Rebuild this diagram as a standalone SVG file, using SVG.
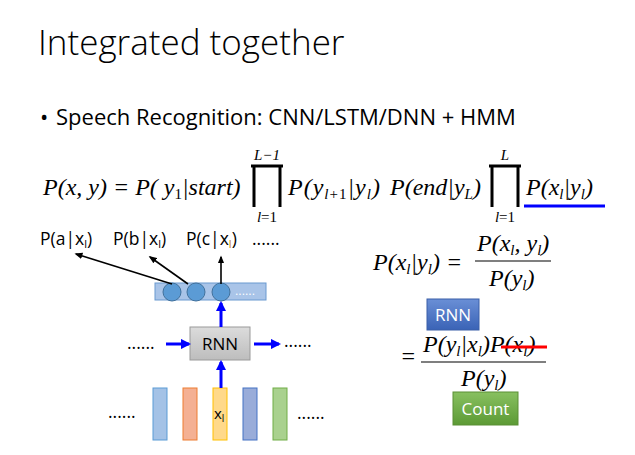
<svg xmlns="http://www.w3.org/2000/svg" width="635" height="455" viewBox="0 0 635 455">
<style>
.t{font-family:"Open Sans","Liberation Sans",sans-serif;fill:#000}
.m{font-family:"Liberation Serif",serif;font-style:italic;font-size:24px;fill:#000}
.s{font-size:15px}
.lab{font-family:"Open Sans","Liberation Sans",sans-serif;font-size:17.5px}
.prod{fill:none;stroke:#000;stroke-width:3}
.bl{stroke:#0000ff;stroke-width:3;fill:none}
.bk{stroke:#000;stroke-width:1.6;fill:none}
</style>
<defs>
<marker id="ab" viewBox="0 0 10 10" refX="8" refY="5" markerWidth="3.5" markerHeight="3.5" orient="auto"><path d="M0,0L10,5L0,10z" fill="#0000ff"/></marker>
<marker id="ak" viewBox="0 0 10 10" refX="8" refY="5" markerWidth="5" markerHeight="5" orient="auto"><path d="M0,1L10,5L0,9z" fill="#000"/></marker>
<linearGradient id="gb" x1="0" y1="0" x2="0" y2="1"><stop offset="0" stop-color="#6a8fd6"/><stop offset="1" stop-color="#3a63b6"/></linearGradient>
<linearGradient id="gg" x1="0" y1="0" x2="0" y2="1"><stop offset="0" stop-color="#88c060"/><stop offset="1" stop-color="#5c9a35"/></linearGradient>
<linearGradient id="gr" x1="0" y1="0" x2="0" y2="1"><stop offset="0" stop-color="#dcdcdc"/><stop offset="1" stop-color="#bdbdbd"/></linearGradient>
</defs>
<rect width="635" height="455" fill="#fff"/>
<text class="t" x="38" y="55" font-size="35" font-weight="300">Integrated together</text>
<text class="t" x="40" y="125" font-size="22">•</text>
<text class="t" x="56" y="125" font-size="22">Speech Recognition: CNN/LSTM/DNN + HMM</text>

<g id="equation">
<text class="m" x="43" y="195" font-size="23">P(x, y) = P( y<tspan class="s" dy="4" font-style="normal">1</tspan><tspan dy="-4">|start)</tspan></text>
<path class="prod" d="M251,166H283M254,166V207M280,166V207"/>
<text class="m s" x="267" y="160" text-anchor="middle">L−1</text>
<text class="m s" x="267" y="222" text-anchor="middle">l<tspan font-style="normal">=1</tspan></text>
<text class="m" x="288" y="195" font-size="25" letter-spacing="1">P(y<tspan class="s" dy="4">l<tspan font-style="normal">+1</tspan></tspan><tspan dy="-4">|y</tspan><tspan class="s" dy="4">l</tspan><tspan dy="-4">)</tspan></text>
<text class="m" x="390" y="195" font-size="25">P(end|y<tspan class="s" dy="4">L</tspan><tspan dy="-4">)</tspan></text>
<path class="prod" d="M489,166H521M492,166V207M518,166V207"/>
<text class="m s" x="505" y="160" text-anchor="middle">L</text>
<text class="m s" x="505" y="222" text-anchor="middle">l<tspan font-style="normal">=1</tspan></text>
<text class="m" x="526" y="195" font-size="27">P(x<tspan class="s" dy="4">l</tspan><tspan dy="-4">|y</tspan><tspan class="s" dy="4">l</tspan><tspan dy="-4">)</tspan></text>
<line x1="524" y1="206" x2="605" y2="206" stroke="#0000ff" stroke-width="3"/>
</g>

<g id="outputs" class="lab">
<text x="40" y="245">P(a|x<tspan font-size="11" dy="3">l</tspan><tspan dy="-3">)</tspan></text>
<text x="113" y="245">P(b|x<tspan font-size="11" dy="3">l</tspan><tspan dy="-3">)</tspan></text>
<text x="186" y="245">P(c|x<tspan font-size="11" dy="3" fill="#c08000">l</tspan><tspan dy="-3">)</tspan></text>
<text x="252" y="245">......</text>
</g>

<g id="layer">
<rect x="155" y="283" width="111" height="17" fill="#a9c4e8" stroke="#6a9ad0"/>
<circle cx="172" cy="292" r="9" fill="#5b9bd5" stroke="#41719c"/>
<circle cx="196" cy="292" r="9" fill="#5b9bd5" stroke="#41719c"/>
<circle cx="221" cy="292" r="9" fill="#5b9bd5" stroke="#41719c"/>
<text x="235" y="295" font-family="Liberation Sans,sans-serif" font-size="12" fill="#fff">......</text>
</g>

<g id="rnn">
<rect x="190" y="327" width="60" height="33" fill="url(#gr)" stroke="#9a9a9a"/>
<text class="t" x="220" y="350" font-size="17" text-anchor="middle">RNN</text>
</g>

<g id="inputs">
<rect x="153" y="388" width="14" height="52" fill="#a4c2e6" stroke="#5b9bd5"/>
<rect x="183" y="388" width="14" height="52" fill="#f4b093" stroke="#ed7d31"/>
<rect x="213" y="388" width="14" height="52" fill="#ffd98a" stroke="#ffc000"/>
<text class="t" x="214" y="419" font-size="15">x<tspan font-size="10" dy="3">l</tspan></text>
<rect x="243" y="388" width="14" height="52" fill="#99acd9" stroke="#4472c4"/>
<rect x="273" y="388" width="14" height="52" fill="#a9d18e" stroke="#70ad47"/>
</g>

<g id="dots" class="lab">
<text x="108" y="418">......</text>
<text x="297" y="419">......</text>
<text x="127" y="349">......</text>
<text x="284" y="347">......</text>
</g>

<g id="connectors">
<line class="bk" x1="172" y1="284" x2="76" y2="254" marker-end="url(#ak)"/>
<line class="bk" x1="188" y1="284" x2="150" y2="257" marker-end="url(#ak)"/>
<line class="bk" x1="221" y1="284" x2="221" y2="257" marker-end="url(#ak)"/>
<line class="bl" x1="221" y1="327" x2="221" y2="303" marker-end="url(#ab)"/>
<line class="bl" x1="166" y1="344" x2="189" y2="344" marker-end="url(#ab)"/>
<line class="bl" x1="254" y1="344" x2="279" y2="344" marker-end="url(#ab)"/>
<line class="bl" x1="221" y1="388" x2="221" y2="362" marker-end="url(#ab)"/>
</g>

<g id="right-eq">
<text class="m" x="373" y="270">P(x<tspan class="s" dy="4">l</tspan><tspan dy="-4">|y</tspan><tspan class="s" dy="4">l</tspan><tspan dy="-4">) =</tspan></text>
<text class="m" x="477" y="251">P(x<tspan class="s" dy="4">l</tspan><tspan dy="-4">, y</tspan><tspan class="s" dy="4">l</tspan><tspan dy="-4">)</tspan></text>
<line x1="475" y1="261" x2="551" y2="261" stroke="#000" stroke-width="1.2"/>
<text class="m" x="489" y="286">P(y<tspan class="s" dy="4">l</tspan><tspan dy="-4">)</tspan></text>
<text class="m" x="400" y="364" font-style="normal">=</text>
<text class="m" x="423" y="352">P(y<tspan class="s" dy="4">l</tspan><tspan dy="-4">|x</tspan><tspan class="s" dy="4">l</tspan><tspan dy="-4">)P(x</tspan><tspan class="s" dy="4">l</tspan><tspan dy="-4">)</tspan></text>
<line x1="501" y1="347" x2="547" y2="347" stroke="#ff0000" stroke-width="3"/>
<line x1="421" y1="362" x2="546" y2="362" stroke="#000" stroke-width="1.2"/>
<text class="m" x="461" y="386">P(y<tspan class="s" dy="4">l</tspan><tspan dy="-4">)</tspan></text>
</g>

<g id="btn-rnn">
<rect x="427" y="299" width="52" height="31" fill="url(#gb)" stroke="#3a5fa8"/>
<text class="t" x="453" y="321" font-size="17" style="fill:#fff" text-anchor="middle">RNN</text>
</g>
<g id="btn-count">
<rect x="453" y="392" width="65" height="33" fill="url(#gg)" stroke="#5a8f34"/>
<text class="t" x="485.5" y="415" font-size="17" style="fill:#fff" text-anchor="middle">Count</text>
</g>
</svg>
